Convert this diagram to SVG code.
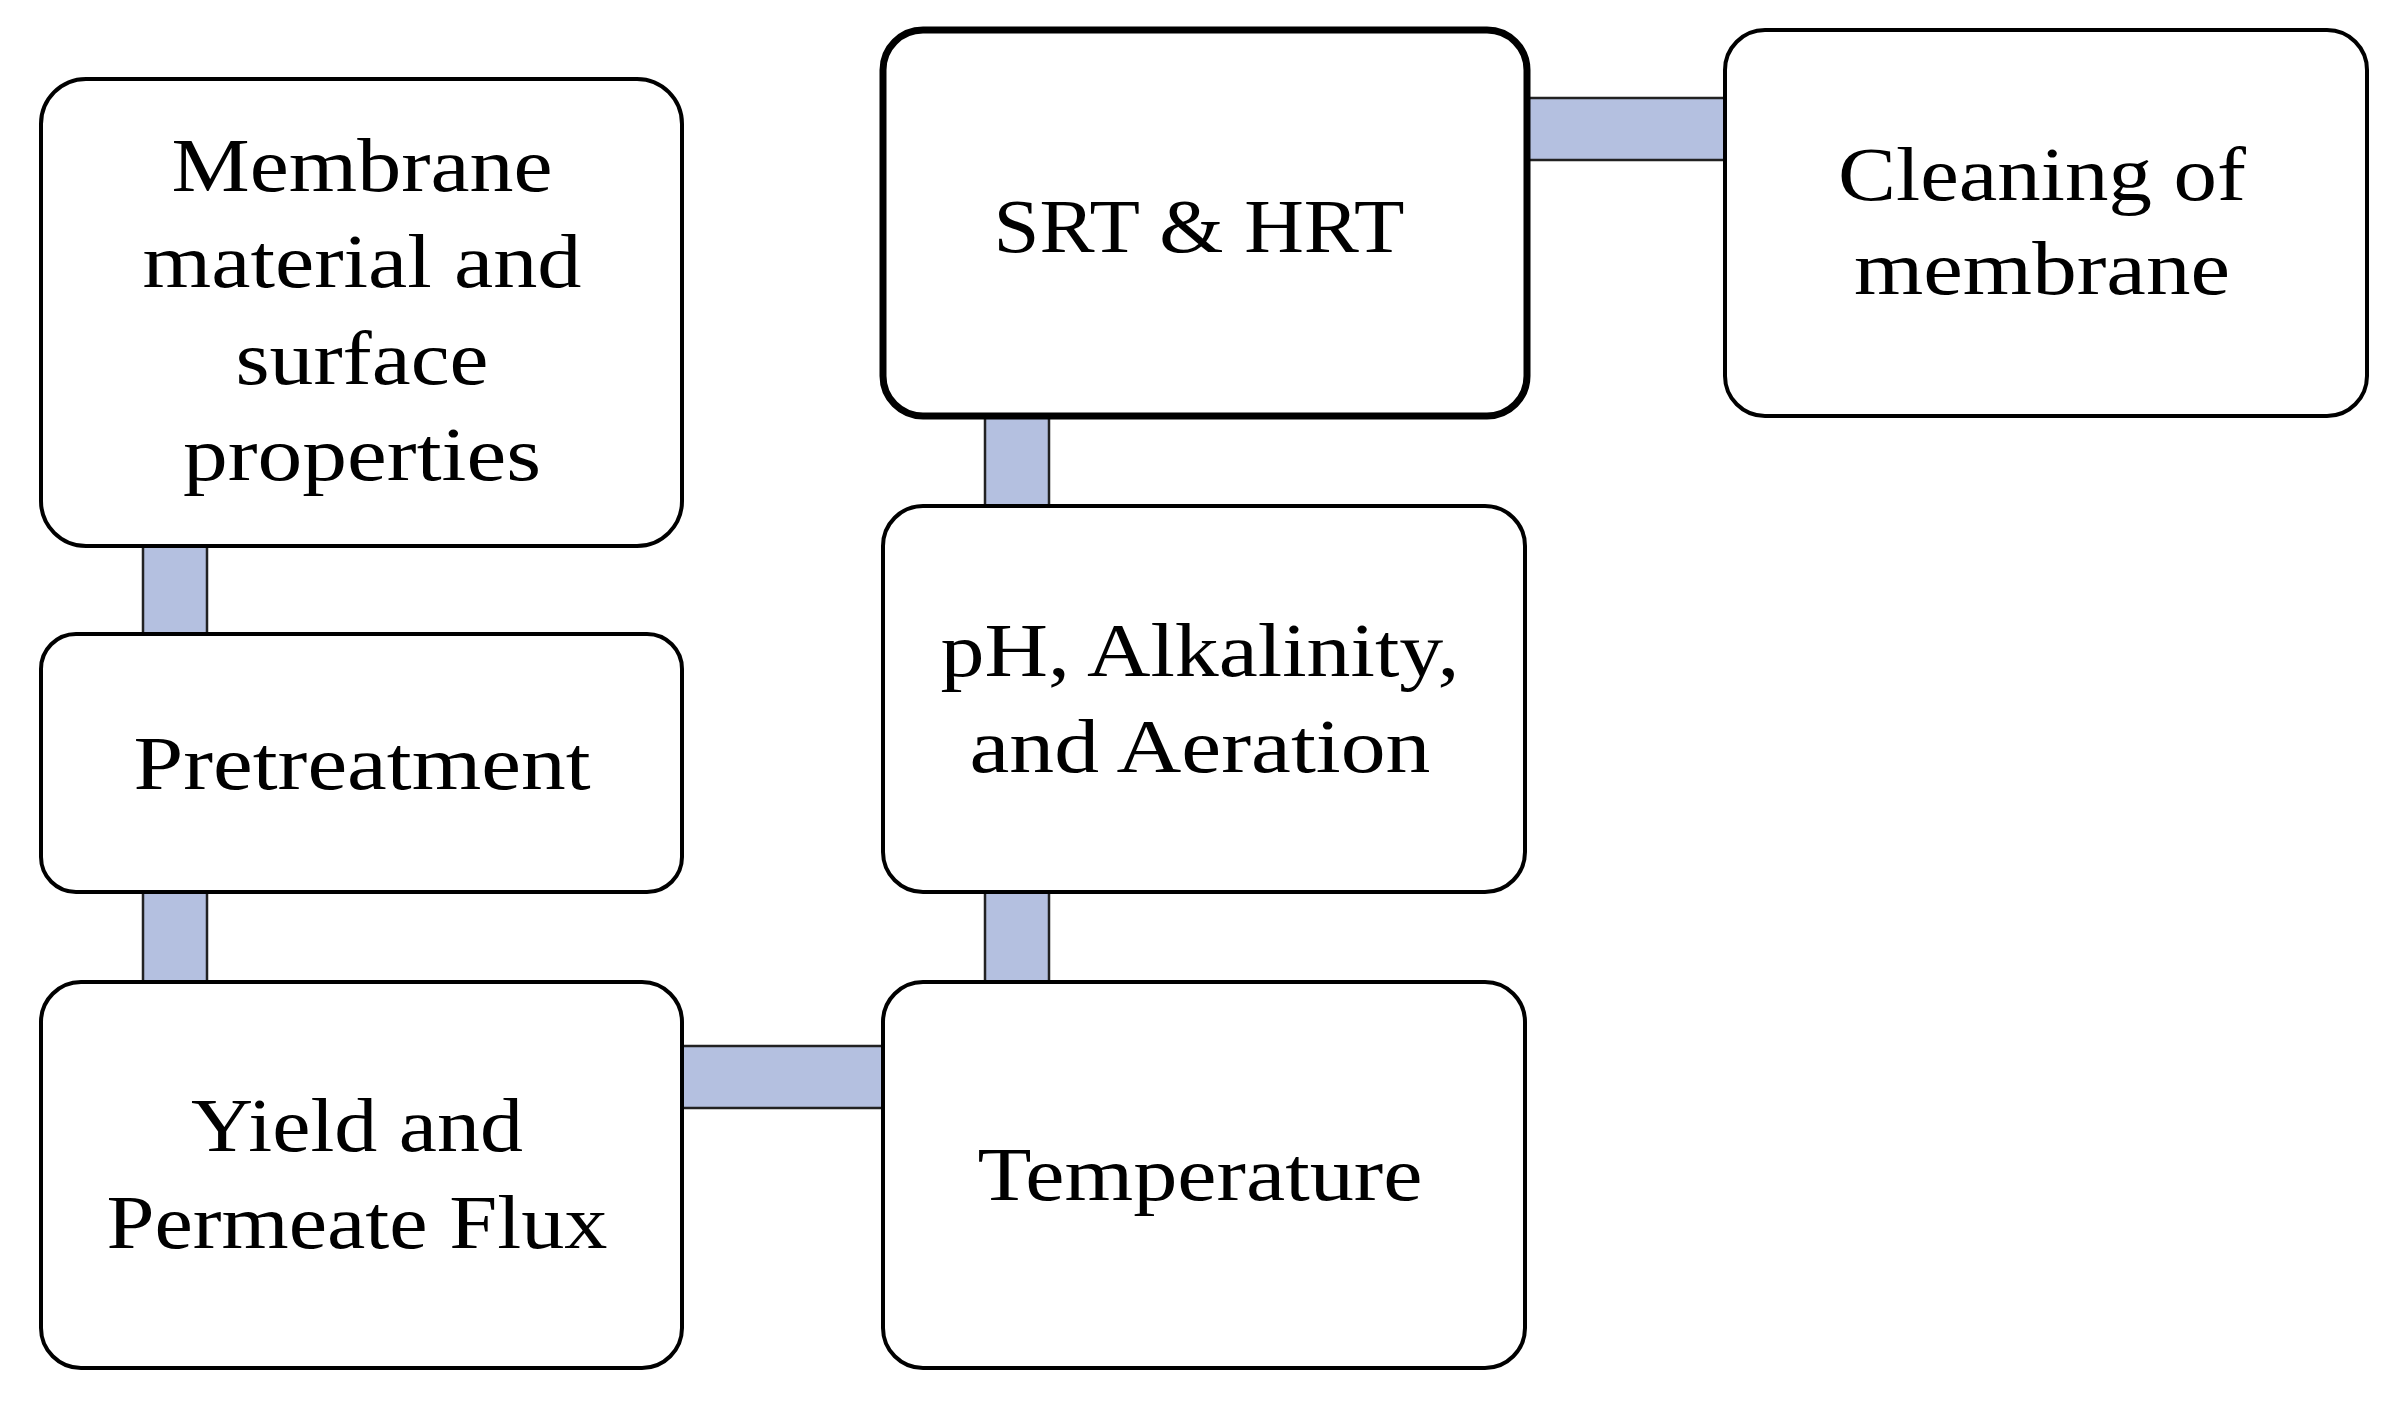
<svg xmlns="http://www.w3.org/2000/svg" width="2388" height="1404" viewBox="0 0 2388 1404">
<style>
.n{fill:#fff;stroke:#000;stroke-width:4}
.c{fill:#b4c0e0;stroke:#222;stroke-width:2.5}
text{font-family:"Liberation Serif",serif;font-size:76px;text-anchor:middle;fill:#000}
</style>
<rect width="2388" height="1404" fill="#fff"/>
<g id="connectors">
<rect class="c" x="143" y="546" width="64" height="88"/>
<rect class="c" x="143" y="892" width="64" height="90"/>
<rect class="c" x="985" y="416" width="64" height="90"/>
<rect class="c" x="985" y="892" width="64" height="90"/>
<rect class="c" x="682" y="1046" width="201" height="62"/>
<rect class="c" x="1527" y="98" width="198" height="62"/>
</g>
<g id="membrane"><rect class="n" x="41" y="79" width="641" height="467" rx="45"/>
<text x="362" y="191" textLength="381" lengthAdjust="spacingAndGlyphs">Membrane</text><text x="362" y="287" textLength="439" lengthAdjust="spacingAndGlyphs">material and</text><text x="362" y="384" textLength="253" lengthAdjust="spacingAndGlyphs">surface</text><text x="362" y="480" textLength="358" lengthAdjust="spacingAndGlyphs">properties</text></g>
<g id="pretreatment"><rect class="n" x="41" y="634" width="641" height="258" rx="35"/><text x="362" y="789" textLength="457" lengthAdjust="spacingAndGlyphs">Pretreatment</text></g>
<g id="yield"><rect class="n" x="41" y="982" width="641" height="386" rx="40"/><text x="357" y="1151" textLength="332" lengthAdjust="spacingAndGlyphs">Yield and</text><text x="357" y="1248" textLength="501" lengthAdjust="spacingAndGlyphs">Permeate Flux</text></g>
<g id="srt"><rect class="n" x="883" y="30" width="644" height="386" rx="40" style="stroke-width:7"/><text x="1199" y="252" textLength="411" lengthAdjust="spacingAndGlyphs">SRT &amp; HRT</text></g>
<g id="ph"><rect class="n" x="883" y="506" width="642" height="386" rx="40"/><text x="1200" y="676" textLength="519" lengthAdjust="spacingAndGlyphs">pH, Alkalinity,</text><text x="1200" y="772" textLength="461" lengthAdjust="spacingAndGlyphs">and Aeration</text></g>
<g id="temperature"><rect class="n" x="883" y="982" width="642" height="386" rx="40"/><text x="1200" y="1200" textLength="445" lengthAdjust="spacingAndGlyphs">Temperature</text></g>
<g id="cleaning"><rect class="n" x="1725" y="30" width="642" height="386" rx="40"/><text x="2042" y="200" textLength="408" lengthAdjust="spacingAndGlyphs">Cleaning of</text><text x="2042" y="294" textLength="376" lengthAdjust="spacingAndGlyphs">membrane</text></g>
</svg>
